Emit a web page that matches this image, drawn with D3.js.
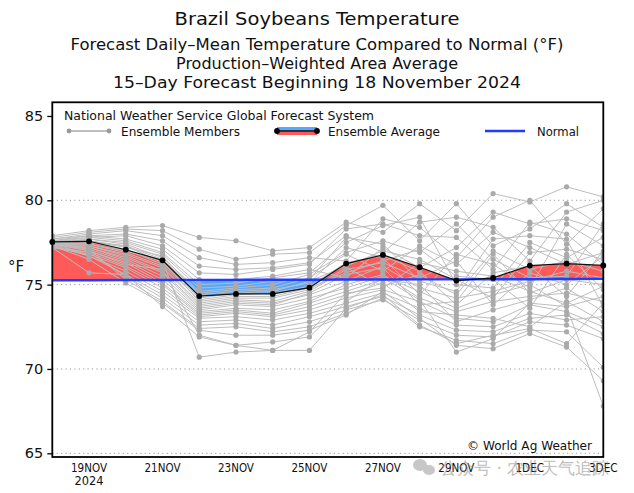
<!DOCTYPE html>
<html><head><meta charset="utf-8">
<script src="https://cdn.jsdelivr.net/npm/d3@7"></script>
<style>
body{margin:0;background:#fff;}
svg{display:block;}
text{font-family:"DejaVu Sans",sans-serif;fill:#111;}
</style></head>
<body><svg id="c" width="634" height="493"></svg>
<script>
const dates = ["2024-11-18","2024-11-19","2024-11-20","2024-11-21","2024-11-22","2024-11-23","2024-11-24","2024-11-25",
  "2024-11-26","2024-11-27","2024-11-28","2024-11-29","2024-11-30","2024-12-01","2024-12-02","2024-12-03"];
const ensembleAvg = [77.53,77.57,77.07,76.44,74.32,74.45,74.45,74.82,76.25,76.76,76.03,75.24,75.40,76.13,76.24,76.14];
const normal = [75.26,75.26,75.27,75.27,75.28,75.28,75.29,75.29,75.30,75.30,75.31,75.31,75.32,75.32,75.33,75.34];
const members = [
 [77.9,78.2,78.4,78.5,77.8,77.6,77.0,77.2,78.7,78.1,79.8,78.2,80.4,79.9,80.8,80.2],
 [77.8,78.1,78.3,78.2,77.1,76.5,76.8,76.9,78.5,79.7,77.6,79.8,77.3,78.3,79.8,78.4],
 [77.7,78.0,78.2,77.9,76.6,76.2,76.3,76.6,76.4,78.9,78.4,76.6,79.0,80.0,77.4,79.5],
 [77.6,77.9,78.0,77.6,76.1,75.9,76.0,76.3,77.9,76.9,78.7,79.0,78.4,76.4,79.3,80.0],
 [77.5,77.8,77.9,77.3,75.7,75.6,75.9,76.2,78.3,78.6,77.9,77.8,75.9,78.7,78.0,76.2],
 [77.7,77.9,77.7,77.1,75.3,75.3,75.5,75.9,75.4,77.2,76.0,77.2,79.3,78.6,78.9,78.2],
 [77.6,77.8,77.6,76.9,75.0,75.1,75.4,75.7,77.5,78.5,79.0,75.0,74.8,77.5,76.6,77.8],
 [77.5,77.7,77.5,76.8,74.8,74.9,75.2,75.3,77.8,77.4,75.2,74.6,77.7,77.9,77.7,73.7],
 [77.4,77.7,77.4,76.6,74.6,74.8,75.0,75.6,76.9,77.6,76.9,78.6,76.5,75.4,75.5,78.6],
 [77.5,77.6,77.3,76.5,74.5,74.7,74.8,75.4,76.8,75.8,77.3,76.2,78.1,77.2,76.2,76.9],
 [77.4,77.6,77.2,76.7,74.4,74.6,74.7,75.1,77.2,76.6,74.4,76.8,76.2,74.8,78.6,77.3],
 [77.3,77.5,77.3,76.3,74.2,74.5,74.6,75.2,76.1,77.0,76.5,75.3,74.2,76.9,77.1,76.5],
 [77.6,77.5,77.1,76.2,74.1,74.4,74.5,74.9,76.3,76.7,75.8,73.8,75.7,76.1,74.3,77.0],
 [77.5,77.4,77.0,76.4,74.0,74.3,74.3,74.8,75.7,76.4,77.1,75.5,75.3,73.6,76.8,74.7],
 [77.4,77.4,76.9,76.1,73.9,74.2,74.2,74.7,76.0,74.9,75.6,74.4,77.0,75.9,76.4,75.8],
 [77.3,77.3,76.8,76.0,73.8,74.1,74.0,74.6,75.9,76.3,75.4,76.4,73.8,75.7,75.0,76.7],
 [77.5,77.3,76.7,75.8,73.7,74.0,73.9,74.4,75.2,76.1,74.8,74.2,74.6,75.2,75.8,75.4],
 [77.4,77.2,76.6,75.7,73.6,73.9,73.8,74.5,75.6,76.0,73.8,74.0,76.8,74.5,75.3,75.0],
 [77.3,77.2,76.5,75.5,73.5,73.8,73.7,74.2,74.8,75.5,74.6,73.6,74.4,75.0,73.7,74.3],
 [77.6,77.1,76.4,75.3,73.4,73.6,73.5,74.0,75.0,75.6,74.2,73.4,74.0,74.3,74.5,74.0],
 [77.4,77.0,76.3,75.1,73.3,73.5,73.3,73.9,74.6,75.3,75.0,72.8,73.5,74.1,74.8,73.4],
 [77.3,76.9,76.1,75.0,73.2,73.4,73.2,73.7,74.4,75.1,73.4,73.2,73.0,72.5,74.0,72.8],
 [77.2,76.8,76.0,74.8,73.1,73.3,73.1,73.5,74.2,74.7,74.0,73.0,72.8,73.8,73.4,72.5],
 [77.3,76.7,75.8,74.6,73.0,73.1,72.9,73.3,73.9,74.5,73.6,72.6,72.5,73.3,72.9,73.1],
 [77.5,76.7,75.6,74.4,72.8,72.9,72.6,73.1,73.7,74.3,73.2,72.3,72.2,73.0,73.2,72.1],
 [77.2,76.9,75.5,74.2,72.6,72.7,72.4,72.8,73.5,74.1,72.9,72.0,71.9,72.8,72.6,71.8],
 [77.4,77.1,75.3,74.0,72.4,72.5,72.2,72.5,73.3,74.2,72.5,71.7,71.5,72.3,72.2,70.1],
 [77.3,76.5,75.1,73.9,72.3,72.0,72.0,72.3,73.2,74.6,73.0,71.4,71.2,72.1,71.3,69.3],
 [77.2,75.7,75.6,73.7,71.9,71.4,71.6,71.9,74.0,75.4,74.1,71.0,71.8,73.9,73.7,67.8],
 [77.5,77.0,76.2,75.9,72.0,71.4,71.1,71.1,73.6,74.4,72.6,71.5,72.0,72.4,71.5,73.9],
 [77.6,77.6,77.0,76.4,70.7,71.0,71.1,72.2,74.5,74.8,76.3,75.8,75.5,74.6,73.9,74.9]
];
const yTicks = [65,70,75,80,85];
const gridVals = [65,70,75,80];
const xTickDates = ["2024-11-19","2024-11-21","2024-11-23","2024-11-25","2024-11-27","2024-11-29","2024-12-01","2024-12-03"];
const xTickLabels = ["19NOV","21NOV","23NOV","25NOV","27NOV","29NOV","1DEC","3DEC"];
const titles = ["Brazil Soybeans Temperature",
  "Forecast Daily–Mean Temperature Compared to Normal (°F)",
  "Production–Weighted Area Average",
  "15–Day Forecast Beginning 18 November 2024"];

const svg = d3.select("#c");
const L=52.3, R=603.3, T=102.3, B=457;
const parse = d3.utcParse("%Y-%m-%d");
const dts = dates.map(parse);
const x = d3.scaleUtc().domain([dts[0], dts[dts.length-1]]).range([L,R]);
const y = d3.scaleLinear().domain([64.78,85.81]).range([B,T]);

// titles
const tPos = [{y:25,s:18,w:285},{y:50,s:15.5,w:493},{y:69,s:15.5,w:282},{y:88,s:15.5,w:408}];
titles.forEach((t,i)=>{
  svg.append("text").attr("x",317).attr("y",tPos[i].y).attr("text-anchor","middle")
    .attr("font-size",tPos[i].s).attr("textLength",tPos[i].w).attr("lengthAdjust","spacingAndGlyphs").text(t);
});

// gridlines
svg.append("g").selectAll("line").data(gridVals).join("line")
  .attr("x1",L).attr("x2",R).attr("y1",d=>y(d)).attr("y2",d=>y(d))
  .attr("stroke","#999").attr("stroke-width",1).attr("stroke-dasharray","1.2,3.2");

// clip paths for above/below normal
const defs = svg.append("defs");
const above = d3.area().x((d,i)=>x(dts[i])).y0(T-5).y1(d=>y(d));
const below = d3.area().x((d,i)=>x(dts[i])).y0(d=>y(d)).y1(B+5);
defs.append("clipPath").attr("id","cAbove").append("path").attr("d",above(normal));
defs.append("clipPath").attr("id","cBelow").append("path").attr("d",below(normal));
defs.append("clipPath").attr("id","cPlot").append("rect").attr("x",L).attr("y",T).attr("width",R-L).attr("height",B-T);

const band = d3.area().x((d,i)=>x(dts[i])).y0((d,i)=>y(normal[i])).y1(d=>y(d));
svg.append("path").attr("d",band(ensembleAvg)).attr("fill","#ff5a5a").attr("clip-path","url(#cAbove)");
svg.append("path").attr("d",band(ensembleAvg)).attr("fill","#55a8ff").attr("clip-path","url(#cBelow)");

// members
const line = d3.line().x((d,i)=>x(dts[i])).y(d=>y(d));
const gm = svg.append("g").attr("clip-path","url(#cPlot)");
gm.selectAll("path").data(members).join("path").attr("d",line)
  .attr("fill","none").attr("stroke","#bdbdbd").attr("stroke-width",1);
members.forEach(m=>{
  gm.append("g").selectAll("circle").data(m).join("circle")
    .attr("cx",(d,i)=>x(dts[i])).attr("cy",d=>y(d)).attr("r",2.6).attr("fill","#aaaaaa");
});

// normal
svg.append("path").attr("d",line(normal)).attr("fill","none").attr("stroke","#1f3cff").attr("stroke-width",2.4);

// ensemble average
svg.append("path").attr("d",line(ensembleAvg)).attr("fill","none").attr("stroke","#111").attr("stroke-width",1.2);
svg.append("g").selectAll("circle").data(ensembleAvg).join("circle")
  .attr("cx",(d,i)=>x(dts[i])).attr("cy",d=>y(d)).attr("r",2.9).attr("fill","#000");

// frame
svg.append("rect").attr("x",L).attr("y",T).attr("width",R-L).attr("height",B-T)
  .attr("fill","none").attr("stroke","#000").attr("stroke-width",1.8);

// y axis
const ya = svg.append("g").attr("transform",`translate(${L},0)`)
  .call(d3.axisLeft(y).tickValues(yTicks).tickSize(5).tickFormat(d3.format("d")));
ya.select(".domain").remove();
ya.selectAll("line").attr("stroke","#000").attr("stroke-width",1.3);
ya.selectAll("text").attr("font-size",14.5).attr("font-family","DejaVu Sans").attr("fill","#111").attr("dx","-1");
svg.append("text").attr("x",8).attr("y",272).attr("font-size",15).text("°F");

// x axis labels
const xa = svg.append("g");
xTickDates.forEach((d,i)=>{
  const lbl = xTickLabels[i];
  xa.append("text").attr("x",x(parse(d))).attr("y",472).attr("text-anchor","middle")
    .attr("font-size",12).attr("font-family","DejaVu Sans Condensed, DejaVu Sans")
    .attr("textLength",lbl.length*7.2).attr("lengthAdjust","spacingAndGlyphs").text(lbl);
});
svg.append("text").attr("x",x(parse(xTickDates[0]))).attr("y",485).attr("text-anchor","middle")
  .attr("font-size",12).attr("font-family","DejaVu Sans Condensed, DejaVu Sans")
  .attr("textLength",29).attr("lengthAdjust","spacingAndGlyphs").text("2024");

// legend
svg.append("text").attr("x",64).attr("y",120).attr("font-size",12).attr("textLength",310).attr("lengthAdjust","spacingAndGlyphs")
  .text("National Weather Service Global Forecast System");
const ly = 131;
svg.append("line").attr("x1",69).attr("x2",109).attr("y1",ly).attr("y2",ly).attr("stroke","#aaa").attr("stroke-width",1.3);
[69,109].forEach(cx=>svg.append("circle").attr("cx",cx).attr("cy",ly).attr("r",2.4).attr("fill","#999"));
svg.append("text").attr("x",121).attr("y",ly+4.5).attr("font-size",12).attr("textLength",119).attr("lengthAdjust","spacingAndGlyphs").text("Ensemble Members");
svg.append("rect").attr("x",277).attr("y",ly-4).attr("width",40).attr("height",4).attr("fill","#55a8ff");
svg.append("rect").attr("x",277).attr("y",ly).attr("width",40).attr("height",4).attr("fill","#ff5a5a");
svg.append("line").attr("x1",277).attr("x2",317).attr("y1",ly).attr("y2",ly).attr("stroke","#111").attr("stroke-width",1.3);
[277,317].forEach(cx=>svg.append("circle").attr("cx",cx).attr("cy",ly).attr("r",2.9).attr("fill","#000"));
svg.append("text").attr("x",328).attr("y",ly+4.5).attr("font-size",12).attr("textLength",112).attr("lengthAdjust","spacingAndGlyphs").text("Ensemble Average");
svg.append("line").attr("x1",485).attr("x2",525).attr("y1",ly).attr("y2",ly).attr("stroke","#1f3cff").attr("stroke-width",2.4);
svg.append("text").attr("x",537).attr("y",ly+4.5).attr("font-size",12).attr("textLength",42).attr("lengthAdjust","spacingAndGlyphs").text("Normal");

// credit
svg.append("text").attr("x",592).attr("y",450).attr("text-anchor","end").attr("font-size",12)
  .attr("textLength",125).attr("lengthAdjust","spacingAndGlyphs").text("© World Ag Weather");

// watermark
const wm = svg.append("g").attr("opacity",0.55);
wm.append("ellipse").attr("cx",420).attr("cy",465).attr("rx",7).attr("ry",6).attr("fill","#9a9a9a");
wm.append("ellipse").attr("cx",429).attr("cy",470).attr("rx",6).attr("ry",5).attr("fill","#9a9a9a");
wm.append("text").attr("x",440).attr("y",474).attr("font-size",17).attr("font-family","Noto Sans CJK SC")
  .attr("fill","#8a8a8a").style("fill","#8a8a8a").text("公众号 · 农业天气追踪");
</script></body></html>
